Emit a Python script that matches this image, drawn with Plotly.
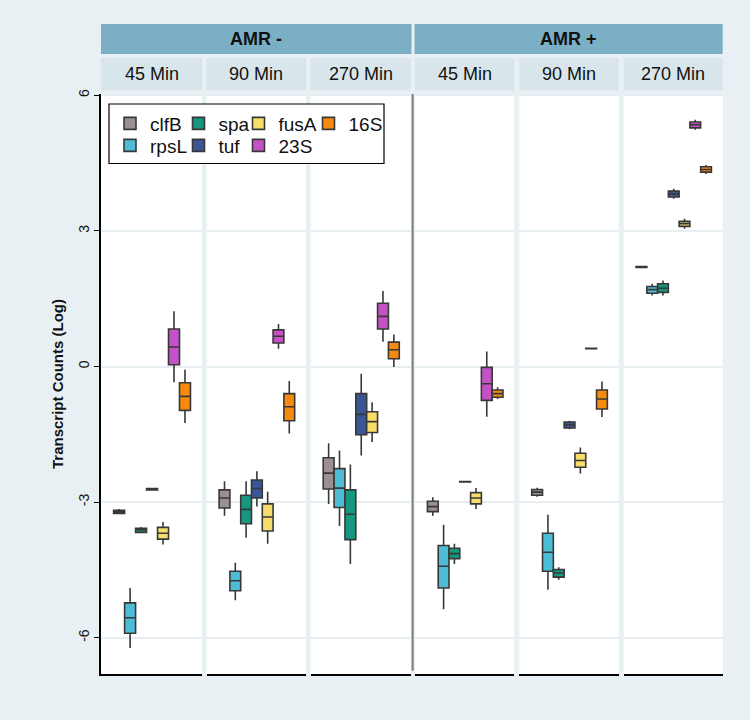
import plotly.graph_objects as go

# ---------------- data ----------------
genes = ["clfB", "rpsL", "spa", "tuf", "fusA", "23S", "16S"]
gene_colors = ["#9c8f8f", "#4dbdd6", "#17977f", "#3a5696", "#f8dc6c", "#c452c6", "#f48a0e"]
groups = ["AMR -", "AMR +"]
times = ["45 Min", "90 Min", "270 Min"]

# per panel (AMR- 45/90/270, AMR+ 45/90/270): (low whisker, q1, median, q3, high whisker)
clfB = [(-3.27, -3.25, -3.21, -3.18, -3.15), (-3.30, -3.13, -2.91, -2.73, -2.54),
        (-3.04, -2.71, -2.36, -2.02, -1.70), (-3.30, -3.21, -3.10, -2.98, -2.89),
        (-2.88, -2.85, -2.78, -2.72, -2.68), (2.18, 2.19, 2.20, 2.21, 2.22)]
rpsL = [(-6.23, -5.90, -5.56, -5.23, -4.90), (-5.17, -4.96, -4.74, -4.53, -4.34),
        (-3.53, -3.12, -2.69, -2.26, -1.86), (-5.37, -4.90, -4.42, -3.96, -3.50),
        (-4.94, -4.53, -4.11, -3.69, -3.28), (1.57, 1.62, 1.70, 1.77, 1.83)]
spa = [(-3.69, -3.67, -3.61, -3.58, -3.55), (-3.79, -3.48, -3.16, -2.85, -2.54),
       (-4.37, -3.83, -3.27, -2.73, -2.17), (-4.37, -4.25, -4.14, -4.02, -3.92),
       (-4.72, -4.66, -4.57, -4.49, -4.44), (1.57, 1.64, 1.73, 1.83, 1.90)]
tuf = [(-2.74, -2.73, -2.72, -2.70, -2.69), (-3.10, -2.91, -2.70, -2.51, -2.32),
       (-1.97, -1.51, -1.06, -0.60, -0.16), (-2.56, -2.555, -2.55, -2.545, -2.54),
       (-1.39, -1.36, -1.29, -1.23, -1.20), (3.71, 3.75, 3.82, 3.88, 3.93)]
fusA = [(-3.94, -3.82, -3.69, -3.56, -3.44), (-3.92, -3.64, -3.33, -3.04, -2.77),
        (-1.67, -1.46, -1.22, -1.00, -0.79), (-3.15, -3.04, -2.91, -2.79, -2.69),
        (-2.37, -2.23, -2.08, -1.92, -1.79), (3.05, 3.10, 3.16, 3.21, 3.27)]
rRNA23S = [(-0.35, 0.04, 0.43, 0.83, 1.22), (0.39, 0.52, 0.67, 0.81, 0.94),
           (0.55, 0.83, 1.11, 1.40, 1.67), (-1.11, -0.75, -0.38, -0.02, 0.33),
           (0.39, 0.395, 0.40, 0.405, 0.41), (5.24, 5.28, 5.35, 5.41, 5.46)]
rRNA16S = [(-1.25, -0.97, -0.66, -0.36, -0.07), (-1.48, -1.20, -0.89, -0.60, -0.32),
           (-0.01, 0.17, 0.37, 0.54, 0.71), (-0.72, -0.68, -0.60, -0.52, -0.46),
           (-1.12, -0.94, -0.72, -0.52, -0.33), (4.26, 4.30, 4.36, 4.42, 4.46)]

gene_data = [clfB, rpsL, spa, tuf, fusA, rRNA23S, rRNA16S]
y_ticks = [-6, -3, 0, 3, 6]

# ---------------- layout helpers ----------------
W, H = 750, 720
FONT = "Liberation Sans, Arial, Helvetica, sans-serif"


def px(x):
    return x / W


def py(y):
    return 1 - y / H


panel_px = [(101, 202), (206.7, 306), (310.7, 410.7), (415, 514.3), (519.3, 618.7), (623.7, 722.7)]
Y_TOP, Y_BOT = 94, 674

# legend layout: (column, row) of each gene in the legend box
legend_cell = [(0, 0), (0, 1), (1, 0), (1, 1), (2, 0), (2, 1), (3, 0)]
legend_col_x = [130, 198.5, 258.5, 328.5]
legend_row_y = [123.5, 145.5]

fig = go.Figure()

for gi, gene in enumerate(genes):
    leg_id = "legend" if gi == 0 else f"legend{gi + 1}"
    for pi in range(6):
        lo, q1, med, q3, hi = gene_data[gi][pi]
        xid = "x" if pi == 0 else f"x{pi + 1}"
        fig.add_trace(go.Box(
            x=[gene], q1=[q1], median=[med], q3=[q3], lowerfence=[lo], upperfence=[hi],
            xaxis=xid, yaxis="y",
            name=gene, legendgroup=gene, showlegend=(pi == 0), legend=leg_id,
            fillcolor=gene_colors[gi],
            line=dict(color="#383838", width=1.6),
            whiskerwidth=0, boxpoints=False, hoverinfo="skip",
        ))

layout = dict(
    width=W, height=H,
    margin=dict(l=0, r=0, t=0, b=0),
    paper_bgcolor="#e9f0f3",
    plot_bgcolor="#ffffff",
    boxmode="overlay", boxgap=0.0, boxgroupgap=0.0,
    showlegend=True,
    font=dict(family=FONT, color="#111111"),
)

for pi, (x0, x1) in enumerate(panel_px):
    key = "xaxis" if pi == 0 else f"xaxis{pi + 1}"
    layout[key] = dict(
        domain=[px(x0), px(x1)], anchor="y", type="category",
        categoryorder="array", categoryarray=genes,
        range=[-1.65, 7.55], showticklabels=False, ticks="",
        showgrid=False, zeroline=False,
        showline=True, linecolor="#000000", linewidth=1.5,
        fixedrange=True,
    )

layout["yaxis"] = dict(
    domain=[py(Y_BOT), py(Y_TOP)], anchor="x",
    range=[(366.5 - Y_BOT) / 45.2, (366.5 - Y_TOP) / 45.2],
    tickvals=y_ticks, ticktext=[str(v) for v in y_ticks], tickangle=-90,
    ticks="outside", ticklen=5, tickwidth=1, tickcolor="#000000",
    tickfont=dict(size=14, color="#111111", family=FONT),
    showline=True, linecolor="#000000", linewidth=1.5,
    showgrid=True, gridcolor="#e7eef1", gridwidth=1.5,
    zeroline=False, automargin=False, fixedrange=True,
)

for gi, gene in enumerate(genes):
    leg_id = "legend" if gi == 0 else f"legend{gi + 1}"
    c, r = legend_cell[gi]
    layout[leg_id] = dict(
        x=px(legend_col_x[c] - 20), xanchor="left",
        y=py(legend_row_y[r]), yanchor="middle",
        bgcolor="rgba(0,0,0,0)", borderwidth=0,
        font=dict(size=19, family=FONT, color="#111111"),
        itemwidth=30, orientation="v",
        itemclick=False, itemdoubleclick=False,
    )

shapes = []
annotations = []

# top group headers
grp_span = [(panel_px[0][0], panel_px[2][1] + 0.8), (panel_px[3][0] - 0.5, panel_px[5][1])]
for gi, (x0, x1) in enumerate(grp_span):
    shapes.append(dict(type="rect", xref="paper", yref="paper",
                       x0=px(x0), x1=px(x1), y0=py(54), y1=py(24),
                       fillcolor="#7aafc5", line=dict(width=0), layer="above"))
    annotations.append(dict(text=f"<b>{groups[gi]}</b>", xref="paper", yref="paper",
                            x=px((x0 + x1) / 2), y=py(39), showarrow=False,
                            font=dict(size=18, family=FONT, color="#111111"),
                            xanchor="center", yanchor="middle"))

# sub headers (time)
for pi, (x0, x1) in enumerate(panel_px):
    shapes.append(dict(type="rect", xref="paper", yref="paper",
                       x0=px(x0), x1=px(x1), y0=py(90.5), y1=py(58),
                       fillcolor="#d8e6ec", line=dict(width=0), layer="above"))
    annotations.append(dict(text=times[pi % 3], xref="paper", yref="paper",
                            x=px((x0 + x1) / 2), y=py(74.5), showarrow=False,
                            font=dict(size=18, family=FONT, color="#111111"),
                            xanchor="center", yanchor="middle"))

# divider between AMR- and AMR+
shapes.append(dict(type="line", xref="paper", yref="paper",
                   x0=px(412.6), x1=px(412.6), y0=py(670.7), y1=py(Y_TOP),
                   line=dict(color="#7d7d7d", width=2), layer="above"))

# legend frame
shapes.append(dict(type="rect", xref="paper", yref="paper",
                   x0=px(109), x1=px(384), y0=py(163.5), y1=py(104),
                   fillcolor="#ffffff", line=dict(color="#000000", width=1.2), layer="above"))

# y axis title
annotations.append(dict(text="<b>Transcript Counts (Log)</b>", xref="paper", yref="paper",
                        x=px(57), y=py((Y_TOP + Y_BOT) / 2), showarrow=False, textangle=-90,
                        font=dict(size=15, family=FONT, color="#111111"),
                        xanchor="center", yanchor="middle"))

layout["shapes"] = shapes
layout["annotations"] = annotations
fig.update_layout(**layout)

fig.write_html(
    "out.html",
    config={"displayModeBar": False, "staticPlot": False},
    post_script="document.body.style.margin='0';document.body.style.padding='0';"
                "document.body.style.overflow='hidden';",
)
